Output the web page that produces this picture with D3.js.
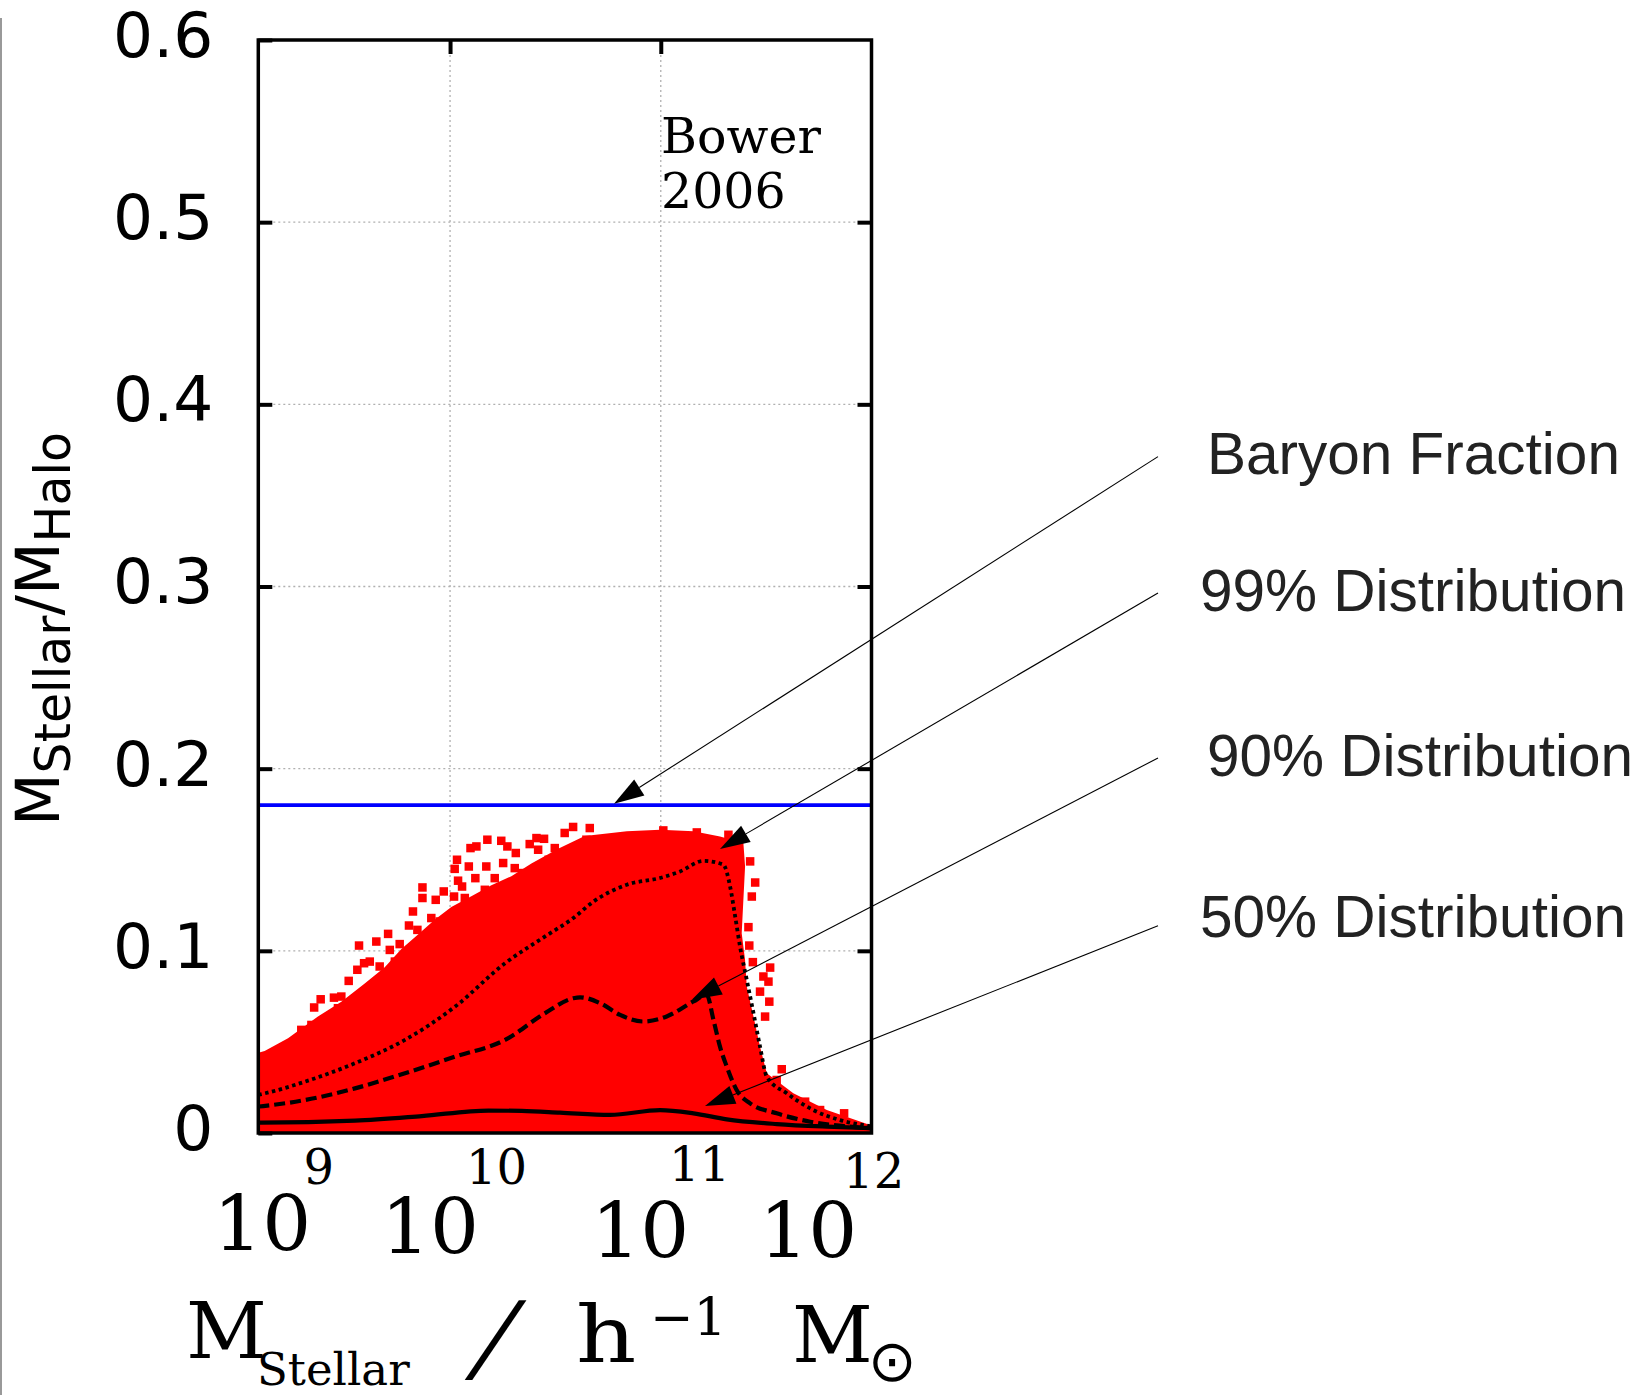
<!DOCTYPE html>
<html><head><meta charset="utf-8">
<script src="https://cdn.jsdelivr.net/npm/d3@7"></script>
<style>html,body{margin:0;padding:0;background:#fff;}svg{display:block;}</style>
</head><body>
<script>
// ---------------- data (log10 stellar mass, stellar/halo fraction) ----------------
const envelopeLogM = [9.09, 9.12, 9.231, 9.373, 9.484, 9.595, 9.69, 9.769, 9.848, 9.927, 10.006, 10.101, 10.196, 10.291, 10.386, 10.513, 10.639, 10.839, 10.997, 11.155, 11.281, 11.392,
  11.4, 11.392, 11.384, 11.4, 11.408, 11.44, 11.471, 11.503, 11.629, 11.788, 11.993, 12.0, 12.0, 9.09];
const envelopeFrac = [0.044, 0.045, 0.052, 0.064, 0.072, 0.082, 0.091, 0.101, 0.109, 0.117, 0.124, 0.13, 0.136, 0.141, 0.148, 0.156, 0.163, 0.1656, 0.1665, 0.1656, 0.1628, 0.1592,
  0.1463, 0.128, 0.1097, 0.095, 0.0804, 0.064, 0.0474, 0.0328, 0.0218, 0.0126, 0.0044, 0.003, 0, 0];

const outlierLogM = [9.355, 9.386, 9.449, 9.484, 9.519, 9.56, 9.592, 9.619, 9.568, 9.65, 9.706, 9.714, 9.761, 9.805, 9.824, 9.845, 9.869, 9.869, 9.932, 9.97,
  10.033, 10.022, 10.019, 10.038, 10.057, 10.097, 10.125, 10.177, 10.172, 10.089, 10.12, 10.243, 10.272, 10.312, 10.252, 10.307, 10.378, 10.41, 10.446, 10.418,
  10.468, 10.497, 10.544, 10.584, 10.663, 10.647, 10.592, 9.294, 9.342, 9.263, 9.184, 9.468, 9.666, 9.738, 9.911, 9.951, 10.212, 10.346, 10.07, 10.165,
  11.012, 11.171, 11.321, 11.424, 11.448, 11.432, 11.416, 11.42, 11.437, 11.519, 11.487, 11.511, 11.471, 11.515, 11.495, 11.574, 11.55, 11.645, 11.685, 11.756, 11.87, 11.582];
const outlierFrac = [0.0689, 0.0734, 0.0743, 0.0749, 0.0835, 0.0896, 0.0932, 0.0941, 0.1029, 0.1051, 0.1093, 0.1005, 0.1037, 0.1139, 0.1216, 0.1115, 0.1348, 0.129, 0.128, 0.1326,
  0.15, 0.145, 0.1298, 0.1385, 0.1353, 0.1564, 0.1573, 0.161, 0.1463, 0.1463, 0.1399, 0.1604, 0.1573, 0.1537, 0.1482, 0.1454, 0.1586, 0.1619, 0.1615, 0.1555,
  0.15, 0.1564, 0.1647, 0.168, 0.1674, 0.161, 0.1564, 0.0566, 0.0593, 0.0484, 0.0438, 0.0685, 0.0914, 0.0941, 0.118, 0.1161, 0.1399, 0.1427, 0.129, 0.1335,
  0.1661, 0.165, 0.1637, 0.1491, 0.1375, 0.1298, 0.113, 0.1029, 0.0938, 0.0908, 0.0859, 0.0831, 0.0776, 0.0721, 0.0639, 0.035, 0.0291, 0.0172, 0.0172, 0.0126, 0.0108, 0.0218];

const p99LogM = [9.09, 9.122, 9.312, 9.549, 9.786, 10.024, 10.261, 10.451, 10.585, 10.68, 10.839, 10.997, 11.092, 11.202, 11.297, 11.329, 11.353, 11.376, 11.408, 11.44, 11.471, 11.503, 11.598, 11.724, 11.851, 11.993];
const p99Frac = [0.021, 0.0218, 0.0282, 0.0383, 0.0511, 0.0694, 0.0932, 0.1079, 0.118, 0.127, 0.1363, 0.14, 0.1436, 0.1494, 0.1473, 0.1353, 0.1189, 0.1024, 0.0841, 0.0658, 0.0474, 0.0309, 0.0218, 0.0126, 0.0071, 0.0038];

const p90LogM = [9.09, 9.114, 9.312, 9.549, 9.786, 10.024, 10.261, 10.451, 10.585, 10.617, 10.712, 10.807, 10.917, 11.028, 11.155, 11.218, 11.25, 11.281, 11.313, 11.36, 11.424, 11.55, 11.709, 11.867, 11.993];
const p90Frac = [0.0145, 0.0148, 0.0181, 0.0245, 0.0328, 0.0419, 0.0511, 0.0658, 0.074, 0.0745, 0.0713, 0.0648, 0.0612, 0.064, 0.0722, 0.0758, 0.0621, 0.0474, 0.0365, 0.0236, 0.0163, 0.0108, 0.0062, 0.0038, 0.0026];

const p50LogM = [9.09, 9.106, 9.549, 9.866, 10.182, 10.34, 10.522, 10.759, 10.997, 11.155, 11.313, 11.55, 11.788, 11.993];
const p50Frac = [0.0057, 0.0057, 0.0068, 0.0093, 0.0123, 0.0121, 0.0112, 0.0099, 0.0126, 0.0108, 0.0075, 0.0049, 0.0035, 0.0027];

const baryonFraction = 0.18;

const yTicks = [0, 0.1, 0.2, 0.3, 0.4, 0.5, 0.6];
const yTickLabels = ["0", "0.1", "0.2", "0.3", "0.4", "0.5", "0.6"];
const xTickExponents = [9, 10, 11, 12];
const xGridExponents = [10, 11];

const annotationLabels = ["Baryon Fraction", "99% Distribution", "90% Distribution", "50% Distribution"];
const annotationTipLogM = [10.778, 11.281, 11.147, 11.21];
const annotationTipFrac = [0.1808, 0.1559, 0.0731, 0.0148];

const panelLabel = ["Bower", "2006"];

// ---------------- layout ----------------
const W = 1646, H = 1395;
const L = 258.3, R = 871.5, T = 40, B = 1133;

const svg = d3.select("body").append("svg").attr("width", W).attr("height", H);

const x = d3.scaleLog().domain([Math.pow(10, 9.09), 1e12]).range([L, R]);
const y = d3.scaleLinear().domain([0, 0.6]).range([B, T]);
const X = lm => x(Math.pow(10, lm));

// left page rule
svg.append("line").attr("x1", 1).attr("x2", 1).attr("y1", 18).attr("y2", H)
  .attr("stroke", "#999").attr("stroke-width", 2);

svg.append("clipPath").attr("id", "clip").append("rect")
  .attr("x", L).attr("y", T).attr("width", R - L).attr("height", B - T);

// grid
const grid = svg.append("g").attr("stroke", "#b0b0b0").attr("stroke-width", 1.3).attr("stroke-dasharray", "2,3");
grid.selectAll("line.h").data(yTicks.slice(1, -1)).enter().append("line")
  .attr("x1", L).attr("x2", R).attr("y1", d => y(d)).attr("y2", d => y(d));
grid.selectAll("line.v").data(xGridExponents).enter().append("line")
  .attr("x1", d => X(d)).attr("x2", d => X(d)).attr("y1", T).attr("y2", B);

const plot = svg.append("g").attr("clip-path", "url(#clip)");

// red cloud
const envPts = envelopeLogM.map((d, i) => [d, envelopeFrac[i]]);
plot.append("path")
  .attr("d", d3.line().x(d => X(d[0])).y(d => y(d[1]))(envPts) + "Z")
  .attr("fill", "#ff0000");
const sq = 8.5;
plot.selectAll("rect.o").data(outlierLogM.map((d, i) => [d, outlierFrac[i]])).enter().append("rect")
  .attr("x", d => X(d[0]) - sq / 2).attr("y", d => y(d[1]) - sq / 2)
  .attr("width", sq).attr("height", sq).attr("fill", "#ff0000");

// baryon fraction line
plot.append("line").attr("x1", L).attr("x2", R).attr("y1", y(baryonFraction)).attr("y2", y(baryonFraction))
  .attr("stroke", "#0000ff").attr("stroke-width", 3.8);

const lineGen = d3.line().x(d => X(d[0])).y(d => y(d[1])).curve(d3.curveMonotoneX);
function curve(lm, fr, dash, w) {
  plot.append("path").attr("d", lineGen(lm.map((d, i) => [d, fr[i]])))
    .attr("fill", "none").attr("stroke", "#000").attr("stroke-width", w)
    .attr("stroke-dasharray", dash);
}
curve(p99LogM, p99Frac, "3.5,3.5", 3.8);
curve(p90LogM, p90Frac, "11,5", 4.2);
curve(p50LogM, p50Frac, null, 4.2);

// frame
svg.append("rect").attr("x", L).attr("y", T).attr("width", R - L).attr("height", B - T)
  .attr("fill", "none").attr("stroke", "#000").attr("stroke-width", 3.5);

// axes (ticks pointing inward)
const axL = svg.append("g").attr("transform", `translate(${L},0)`)
  .call(d3.axisLeft(y).tickValues(yTicks).tickSize(-14).tickPadding(45)
    .tickFormat((d, i) => yTickLabels[i]));
axL.select(".domain").remove();
axL.selectAll("line").attr("stroke", "#000").attr("stroke-width", 4);
axL.selectAll("text").attr("font-family", "DejaVu Sans").attr("font-size", 63)
  .attr("fill", "#000").attr("dy", "0.26em");

const axR = svg.append("g").attr("transform", `translate(${R},0)`)
  .call(d3.axisRight(y).tickValues(yTicks.slice(1, -1)).tickSize(-14).tickFormat(""));
axR.select(".domain").remove();
axR.selectAll("line").attr("stroke", "#000").attr("stroke-width", 4);

const axT = svg.append("g").attr("transform", `translate(0,${T})`)
  .call(d3.axisTop(x).tickValues(xGridExponents.map(e => Math.pow(10, e))).tickSize(-14).tickFormat(""));
axT.select(".domain").remove();
axT.selectAll("line").attr("stroke", "#000").attr("stroke-width", 4);

// x tick labels (gnuplot-style 10^n)
const baseDx = [-22, -65, -65.5, -108.3];
const baseY = [1250, 1253, 1256.5, 1256.5];
const supDx = [67.2, 19, 11.3, -25.4];
const supY = [1184, 1184, 1181, 1188];
const xl = svg.append("g").attr("font-family", "DejaVu Serif").attr("fill", "#000");
xTickExponents.forEach((e, i) => {
  const px = X(e);
  xl.append("text").attr("x", px + baseDx[i] - 4).attr("y", baseY[i]).attr("font-size", 77).text("10");
  xl.append("text").attr("x", px + supDx[i] - 3).attr("y", supY[i]).attr("font-size", 48).text(String(e));
});

// x axis title
const xt = svg.append("g").attr("font-family", "DejaVu Serif").attr("fill", "#000");
xt.append("text").attr("x", 186).attr("y", 1358).attr("font-size", 79).text("M");
xt.append("text").attr("x", 257).attr("y", 1385).attr("font-size", 45).text("Stellar");
xt.append("text").attr("transform", "translate(468,1371) skewX(-20)").attr("font-size", 97).text("/");
xt.append("text").attr("transform", "translate(576,1362) scale(1.2,1)").attr("font-size", 78).text("h");
xt.append("text").attr("x", 650).attr("y", 1335).attr("font-size", 52).text("\u22121");
xt.append("text").attr("x", 792).attr("y", 1362).attr("font-size", 79).text("M");
xt.append("text").attr("x", 868).attr("y", 1381).attr("font-family", "DejaVu Sans").attr("font-size", 58).text("\u2299");

// y axis title
const yt = svg.append("text").attr("transform", "translate(59,629) rotate(-90)")
  .attr("text-anchor", "middle").attr("font-family", "DejaVu Sans").attr("fill", "#000");
yt.append("tspan").attr("font-size", 61).text("M");
yt.append("tspan").attr("font-size", 49).attr("dy", 11).text("Stellar");
yt.append("tspan").attr("font-size", 61).attr("dy", -11).text("/M");
yt.append("tspan").attr("font-size", 49).attr("dy", 11).text("Halo");

// panel label
svg.append("g").attr("font-family", "DejaVu Serif").attr("font-size", 49).attr("fill", "#000")
  .selectAll("text").data(panelLabel).enter().append("text")
  .attr("x", 661).attr("y", (d, i) => 153 + i * 55).text(d => d);

// annotations
const tailX = 1158;
const tailY = [456.6, 593, 758, 925.8];
const textX = [1207, 1200, 1207, 1200];
const textY = [474, 611, 776, 937];
const ann = svg.append("g");
annotationLabels.forEach((lab, i) => {
  const tx = X(annotationTipLogM[i]), ty = y(annotationTipFrac[i]);
  const dx = tx - tailX, dy = ty - tailY[i];
  const len = Math.hypot(dx, dy), ux = dx / len, uy = dy / len;
  const hl = 30, hw = 9.5;
  const bx = tx - ux * hl, by = ty - uy * hl;
  ann.append("line").attr("x1", tailX).attr("y1", tailY[i]).attr("x2", bx).attr("y2", by)
    .attr("stroke", "#000").attr("stroke-width", 1.1);
  ann.append("path").attr("d", `M${tx},${ty}L${bx - uy * hw},${by + ux * hw}L${bx + uy * hw},${by - ux * hw}Z`)
    .attr("fill", "#000");
  ann.append("text").attr("x", textX[i]).attr("y", textY[i])
    .attr("font-family", "Liberation Sans").attr("font-size", 58.5).attr("fill", "#222").text(lab);
});
</script>
</body></html>
